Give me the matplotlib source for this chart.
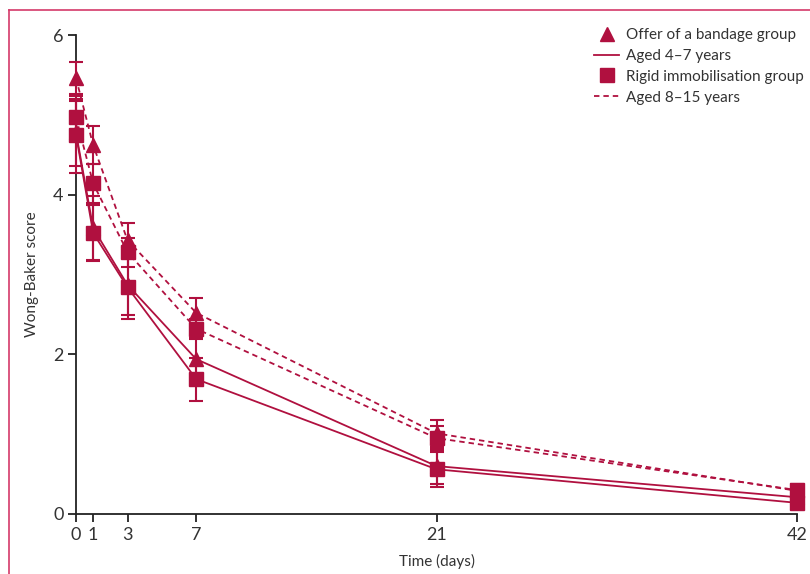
import matplotlib
matplotlib.use("Agg")
import matplotlib.pyplot as plt
from matplotlib.lines import Line2D

# ---- data ----
days = [0, 1, 3, 7, 21, 42]
day_ticks = [0, 1, 3, 7, 21, 42]
y_ticks = [0, 2, 4, 6]

bandage_4_7 = [4.78, 3.58, 2.87, 1.94, 0.60, 0.21]
bandage_4_7_err = [0.42, 0.40, 0.38, 0.25, 0.22, 0.08]
rigid_4_7 = [4.75, 3.52, 2.84, 1.69, 0.56, 0.14]
rigid_4_7_err = [0.48, 0.35, 0.40, 0.27, 0.22, 0.08]
bandage_8_15 = [5.46, 4.62, 3.43, 2.52, 1.01, 0.29]
bandage_8_15_err = [0.20, 0.24, 0.22, 0.18, 0.17, 0.07]
rigid_8_15 = [4.97, 4.14, 3.28, 2.32, 0.95, 0.30]
rigid_8_15_err = [0.20, 0.25, 0.18, 0.12, 0.15, 0.07]

legend_labels = ["Offer of a bandage group", "Aged 4\u20137 years",
                 "Rigid immobilisation group", "Aged 8\u201315 years"]

C = "#B0103F"
TXT = "#333333"
plt.rcParams['font.family'] = ['Lato', 'DejaVu Sans']

fig = plt.figure(figsize=(8.10, 5.74), dpi=100)
ax = fig.add_axes([76/810, 1-514/574, (797-76)/810, (514-35)/574])

dash = (0, (3, 2.2))
series = [
    (bandage_8_15, bandage_8_15_err, '^', dash),
    (rigid_8_15, rigid_8_15_err, 's', dash),
    (bandage_4_7, bandage_4_7_err, '^', '-'),
    (rigid_4_7, rigid_4_7_err, 's', '-'),
]
for vals, errs, mk, ls in series:
    ax.plot(days, vals, color=C, lw=1.3, ls=ls, zorder=2, clip_on=False)
    ax.errorbar(days, vals, yerr=errs, fmt='none', ecolor=C, elinewidth=1.5,
                capsize=5, capthick=1.5, zorder=3, clip_on=False)
for vals, errs, mk, ls in series:
    ax.plot(days, vals, ls='none', marker=mk, ms=9.5, color=C,
            mec=C, zorder=4, clip_on=False)

ax.set_xlim(0, 42)
ax.set_ylim(0, 6)
ax.set_xticks(day_ticks)
ax.set_yticks(y_ticks)
for s in ['top', 'right']:
    ax.spines[s].set_visible(False)
for s in ['left', 'bottom']:
    ax.spines[s].set_color('#222222')
    ax.spines[s].set_linewidth(1.3)
ax.tick_params(direction='out', length=6, width=1.3, color='#222222',
               labelsize=13, labelcolor=TXT, pad=3)
ax.set_xlabel("Time (days)", fontsize=11, color=TXT, labelpad=8)
ax.set_ylabel("Wong-Baker score", fontsize=11, color=TXT, labelpad=10)

handles = [
    Line2D([], [], ls='none', marker='^', ms=9.5, color=C),
    Line2D([], [], ls='-', lw=1.3, color=C),
    Line2D([], [], ls='none', marker='s', ms=9.5, color=C),
    Line2D([], [], ls=dash, lw=1.3, color=C),
]
leg = fig.legend(handles, legend_labels, loc='upper left',
                 bbox_to_anchor=(594/810, 1-28/574), frameon=False,
                 fontsize=11, handlelength=1.65, handletextpad=0.45,
                 labelspacing=0.45, borderaxespad=0, borderpad=0)
for t in leg.get_texts():
    t.set_color(TXT)

# outer frame (left and top)
B = "#D43A6A"
fig.add_artist(Line2D([8.5/810, 8.5/810], [0, 1-10/574], color=B, lw=1.2,
                      transform=fig.transFigure))
fig.add_artist(Line2D([8.5/810, 1], [1-10/574, 1-10/574], color=B, lw=1.2,
                      transform=fig.transFigure))

fig.savefig("out.png", dpi=100)
